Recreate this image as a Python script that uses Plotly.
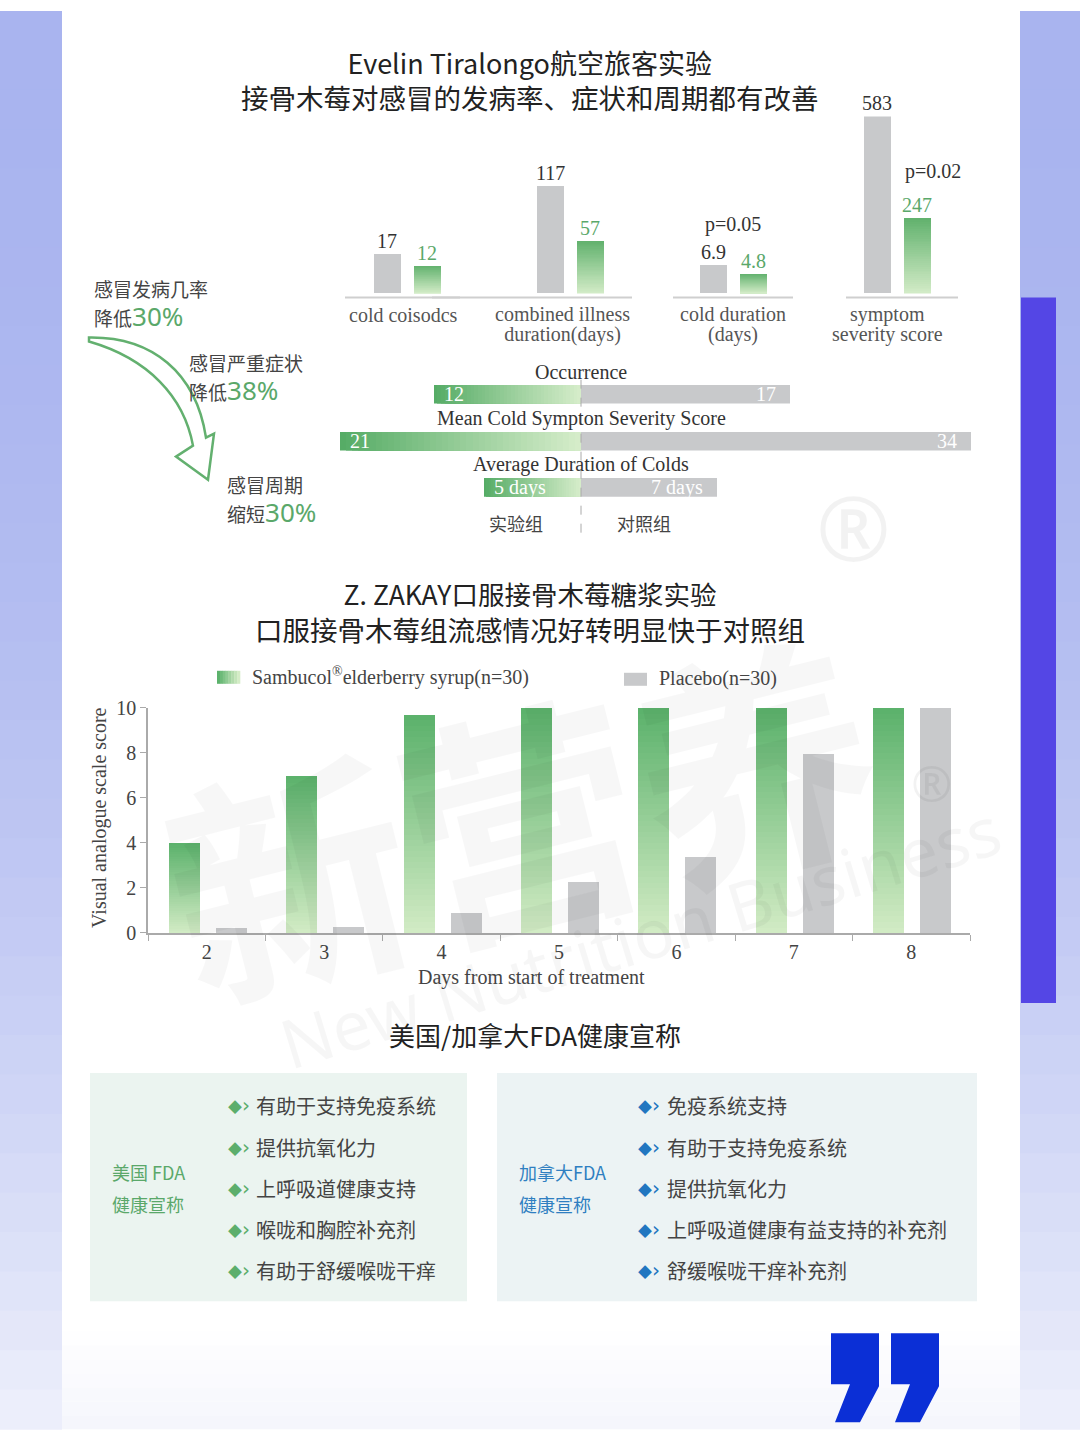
import plotly.graph_objects as go

W, H = 1080, 1440
# the photographed page shows the figure squeezed vertically (offset ~10.7px, scale ~0.984);
# map reference pixel rows to figure rows so the picture lines up with the reference
VA, VB = 10.7, 0.984
def X(px): return px / W
def Y(py): return 1 - ((py - VA) / VB) / H

SERIF = "Liberation Serif"
CJK = "Noto Sans CJK SC"
SANS = "Noto Sans"

# ---------------- data ----------------
# top chart (Evelin Tiralongo)
top_line1 = ["cold coisodcs", "combined illness", "cold duration", "symptom"]
top_line2 = ["", "duration(days)", "(days)", "severity score"]
top_placebo = [17, 117, 6.9, 583]
top_elder = [12, 57, 4.8, 247]
top_pvals = ["", "", "p=0.05", "p=0.02"]

# diverging rows
row_titles = ["Occurrence", "Mean Cold Sympton Severity Score", "Average Duration of Colds"]
row_elder = [12, 21, 5]
row_placebo = [17, 34, 7]
row_unit = ["", "", " days"]
group_names = ["实验组", "对照组"]

# bottom chart (Z. Zakay)
days = ["2", "3", "4", "5", "6", "7", "8"]
syrup = [4.0, 7.0, 9.7, 10, 10, 10, 10]
placebo = [0.22, 0.27, 0.89, 2.27, 3.38, 7.95, 10]
y_ticks = [0, 2, 4, 6, 8, 10]

# left summary
summary_head = ["感冒发病几率", "感冒严重症状", "感冒周期"]
summary_verb = ["降低", "降低", "缩短"]
summary_pct = ["30%", "38%", "30%"]

# FDA claims
us_claims = ["有助于支持免疫系统", "提供抗氧化力", "上呼吸道健康支持", "喉咙和胸腔补充剂", "有助于舒缓喉咙干痒"]
ca_claims = ["免疫系统支持", "有助于支持免疫系统", "提供抗氧化力", "上呼吸道健康有益支持的补充剂", "舒缓喉咙干痒补充剂"]

# ---------------- styles ----------------
GRAY = "#c8c9cb"
TXT = "#333333"
GTXT = "#5aa86a"
N = 40

def lerp(c1, c2, t):
    return "rgb(%d,%d,%d)" % tuple(round(a + (b - a) * t) for a, b in zip(c1, c2))

def ax(k):
    return ("x" if k == 1 else f"x{k}"), ("y" if k == 1 else f"y{k}")

def axname(kind, k):
    return kind if k == 1 else f"{kind}{k}"

fig = go.Figure()
layout_axes = {}
ann = []
shp = []

# ---------------- background ----------------
bands = 36
for i in range(bands):
    f0 = i / bands
    f1 = (i + 1) / bands
    t = ((i + 0.5) / bands) ** 2.2
    col = lerp((169, 180, 239), (238, 240, 251), t)
    for (a, b) in [(0, 62), (1020, 1080)]:
        shp.append(dict(type="rect", xref="paper", yref="paper", x0=X(a), x1=X(b),
                        y0=1 - f1 - 0.0005, y1=1 - f0, fillcolor=col, line_width=0, layer="below"))
for i in range(8):
    y0 = 1330 + i * 14
    col = lerp((255, 255, 255), (244, 245, 252), (i + 1) / 8)
    shp.append(dict(type="rect", xref="paper", yref="paper", x0=X(62), x1=X(1020),
                    y0=max(Y(y0 + 14), 0) if i < 7 else 0, y1=Y(y0), fillcolor=col, line_width=0, layer="below"))
shp.append(dict(type="rect", xref="paper", yref="paper", x0=X(1021), x1=X(1056),
                y0=Y(1002), y1=Y(297), fillcolor="#5446e5", line_width=0, layer="below"))

# ---------------- text helper ----------------
def text(px, py, s, size, color=TXT, family=CJK, xanchor="center", angle=0, yanchor="middle", align=None):
    ann.append(dict(xref="paper", yref="paper", x=X(px), y=Y(py), text=s, showarrow=False,
                    xanchor=xanchor, yanchor=yanchor, textangle=angle,
                    align=align or ("left" if xanchor == "left" else "center"),
                    font=dict(size=size, color=color, family=family)))

def sp(s, size, color=None, family=None):
    st = f"font-size:{size}px"
    if color:
        st += f";color:{color}"
    if family:
        st += f";font-family:{family}"
    return f"<span style='{st}'>{s}</span>"

# titles
text(530, 80, sp("Evelin Tiralongo航空旅客实验", 27) + "<br>" + sp("接骨木莓对感冒的发病率、症状和周期都有改善", 27.5),
     27, "#222")
text(530, 611, sp("Z. ZAKAY口服接骨木莓糖浆实验", 26.5) + "<br>" + sp("口服接骨木莓组流感情况好转明显快于对照组", 27.5),
     27.5, "#222")
text(535, 1033, "美国/加拿大FDA健康宣称", 26, "#222")

# ---------------- watermark ----------------
ann.append(dict(xref="paper", yref="paper", x=X(520), y=Y(810), text="<b>新营养</b>", showarrow=False,
                textangle=-14, font=dict(size=240, color="rgba(0,0,0,0.03)", family=CJK)))
ann.append(dict(xref="paper", yref="paper", x=X(640), y=Y(935), text="New Nutrition Business", showarrow=False,
                textangle=-17, font=dict(size=68, color="rgba(0,0,0,0.035)", family=SANS)))
ann.append(dict(xref="paper", yref="paper", x=X(893), y=Y(525), text="®", showarrow=False,
                font=dict(size=90, color="rgba(0,0,0,0.05)", family=SANS)))
ann.append(dict(xref="paper", yref="paper", x=X(955), y=Y(782), text="®", showarrow=False,
                font=dict(size=50, color="rgba(0,0,0,0.05)", family=SANS)))

# ---------------- top grouped bars (4 independent scales) ----------------
top_xdom = [(366.5, 446.5), (530, 610), (693, 773), (857, 937)]
top_ymax = [77.2, 193.5, 43.6, 583]
top_lines = [(345, 460), (432, 632), (673, 793), (846, 958)]
label_cx = [403, 562, 733, 887]
TG_DARK = (98, 178, 110)
TG_LIGHT = (212, 236, 200)
for i in range(4):
    k = i + 1
    xr, yr = ax(k)
    layout_axes[axname("xaxis", k)] = dict(domain=[X(top_xdom[i][0]), X(top_xdom[i][1])], range=[-0.5, 1.5],
                                           visible=False, anchor=yr, fixedrange=True)
    layout_axes[axname("yaxis", k)] = dict(domain=[Y(293), Y(116)], range=[0, top_ymax[i]],
                                           visible=False, anchor=xr, fixedrange=True)
    fig.add_trace(go.Bar(x=[0], y=[top_placebo[i]], width=0.675, marker=dict(color=GRAY, line_width=0),
                         xaxis=xr, yaxis=yr, showlegend=False, hoverinfo="skip"))
    v = top_elder[i]
    fig.add_trace(go.Bar(x=[1] * N, y=[v * (N - j) / N for j in range(N)], width=0.675,
                         marker=dict(color=[lerp(TG_LIGHT, TG_DARK, (N - j) / N) for j in range(N)], line_width=0),
                         xaxis=xr, yaxis=yr, showlegend=False, hoverinfo="skip"))
    ann.append(dict(xref=xr, yref=yr, x=0, y=top_placebo[i], text=f"{top_placebo[i]:g}", showarrow=False,
                    yanchor="bottom", yshift=0, font=dict(size=20, color=TXT, family=SERIF)))
    ann.append(dict(xref=xr, yref=yr, x=1, y=v, text=f"{v:g}", showarrow=False,
                    yanchor="bottom", yshift=0, font=dict(size=20, color=GTXT, family=SERIF)))
    shp.append(dict(type="line", xref="paper", yref="paper", x0=X(top_lines[i][0]), x1=X(top_lines[i][1]),
                    y0=Y(297), y1=Y(297), line=dict(color="#cfcfcf", width=2)))
    lbl = sp(top_line1[i], 20) + ("<br>" + sp(top_line2[i], 20) if top_line2[i] else "")
    text(label_cx[i], 314 if not top_line2[i] else 324, lbl, 15.4, "#555", SERIF)
text(733, 224, top_pvals[2], 20, TXT, SERIF)
text(933, 171, top_pvals[3], 20, TXT, SERIF)

# ---------------- diverging rows ----------------
row_band = [(384, 403), (431, 450), (477, 496)]
row_R = [39.2, 41.9, 24.7]
row_title_y = [371, 418, 464]
H_DARK = (86, 172, 102)
H_LIGHT = (216, 238, 204)
for r in range(3):
    k = 5 + r
    xr, yr = ax(k)
    layout_axes[axname("xaxis", k)] = dict(domain=[X(100), X(1062)], range=[-row_R[r], row_R[r]],
                                           visible=False, anchor=yr, fixedrange=True)
    layout_axes[axname("yaxis", k)] = dict(domain=[Y(row_band[r][1]), Y(row_band[r][0])], range=[-0.5, 0.5],
                                           visible=False, anchor=xr, fixedrange=True)
    v = row_elder[r]
    fig.add_trace(go.Bar(y=[0] * N, x=[-v * (N - j) / N for j in range(N)], orientation="h", width=1,
                         marker=dict(color=[lerp(H_LIGHT, H_DARK, (N - j) / N) for j in range(N)], line_width=0),
                         xaxis=xr, yaxis=yr, showlegend=False, hoverinfo="skip"))
    fig.add_trace(go.Bar(y=[0], x=[row_placebo[r]], orientation="h", width=1,
                         marker=dict(color=GRAY, line_width=0),
                         xaxis=xr, yaxis=yr, showlegend=False, hoverinfo="skip"))
    ann.append(dict(xref=xr, yref=yr, x=-v, y=0, text=f"{v}{row_unit[r]}", showarrow=False,
                    xanchor="left", xshift=8, font=dict(size=20, color="white", family=SERIF)))
    ann.append(dict(xref=xr, yref=yr, x=row_placebo[r], y=0, text=f"{row_placebo[r]}{row_unit[r]}",
                    showarrow=False, xanchor="right", xshift=-12, font=dict(size=20, color="white", family=SERIF)))
    text(581, row_title_y[r], row_titles[r], 20, TXT, SERIF)

shp.append(dict(type="line", xref="x6", yref="paper", x0=0, x1=0, y0=Y(532), y1=Y(378),
                line=dict(color="#aaaaaa", width=1, dash="dash")))
text(516, 522, group_names[0], 18, "#444")
text(644, 522, group_names[1], 18, "#444")

# ---------------- left summary with arrow ----------------
sum_pos = [(92, 304), (187, 378), (225, 500)]
for i in range(3):
    px, yc = sum_pos[i]
    s = (sp(summary_head[i], 19) + "<br>" + sp(summary_verb[i], 19)
         + sp(summary_pct[i], 26, GTXT, SANS))
    text(px, yc, s, 22.3, "#444", CJK, xanchor="left")

arrow_path = ("M {} C {} {} {} L {} L {} L {} L {} C {} {} {} Z").format(
    f"{X(89):.5f},{Y(337):.5f}",
    f"{X(152):.5f},{Y(336):.5f}", f"{X(196):.5f},{Y(372):.5f}", f"{X(206):.5f},{Y(437):.5f}",
    f"{X(214):.5f},{Y(433):.5f}", f"{X(208):.5f},{Y(479):.5f}", f"{X(176):.5f},{Y(456):.5f}",
    f"{X(193):.5f},{Y(445):.5f}",
    f"{X(184):.5f},{Y(396):.5f}", f"{X(148):.5f},{Y(358):.5f}", f"{X(89):.5f},{Y(341):.5f}")
shp.append(dict(type="path", xref="paper", yref="paper", path=arrow_path,
                fillcolor="white", line=dict(color="#63b06f", width=2.5)))

# ---------------- bottom grouped bar chart ----------------
k = 8
xr, yr = ax(k)
layout_axes[axname("xaxis", k)] = dict(
    domain=[X(148), X(970)], type="category", range=[-0.5, 6.5], anchor=yr,
    tickson="boundaries", ticks="outside", ticklen=6, tickcolor="#aaaaaa", tickwidth=1,
    showline=True, linecolor="#aaaaaa", linewidth=1.5, showgrid=False, fixedrange=True,
    tickfont=dict(size=20, color="#444", family=SERIF))
layout_axes[axname("yaxis", k)] = dict(
    domain=[Y(932), Y(707)], range=[0, 10], anchor=xr, tickvals=y_ticks,
    ticks="outside", ticklen=6, tickcolor="#aaaaaa", showline=True, linecolor="#aaaaaa", linewidth=1.5,
    showgrid=False, zeroline=False, fixedrange=True,
    tickfont=dict(size=20, color="#444", family=SERIF))
B_DARK = (92, 178, 108)
B_LIGHT = (212, 236, 198)
xs, ys, cs = [], [], []
for j in range(N):
    for d, v in zip(days, syrup):
        xs.append(d)
        ys.append(v * (N - j) / N)
        cs.append(lerp(B_LIGHT, B_DARK, (N - j) / N))
fig.add_trace(go.Bar(x=xs, y=ys, width=0.264, offset=-0.324, marker=dict(color=cs, line_width=0),
                     xaxis=xr, yaxis=yr, showlegend=False, hoverinfo="skip"))
fig.add_trace(go.Bar(x=days, y=placebo, width=0.264, offset=0.077, marker=dict(color=GRAY, line_width=0),
                     xaxis=xr, yaxis=yr, showlegend=False, hoverinfo="skip"))
text(100, 817, "Visual analogue scale score", 20, "#444", SERIF, angle=-90)
text(531, 976, "Days from start of treatment", 20, "#444", SERIF)

# legend
for i in range(8):
    shp.append(dict(type="rect", xref="paper", yref="paper", x0=X(217 + i * 23 / 8), x1=X(217 + (i + 1) * 23 / 8 + 0.3),
                    y0=Y(683), y1=Y(670), fillcolor=lerp(B_DARK, B_LIGHT, i / 7), line_width=0))
shp.append(dict(type="rect", xref="paper", yref="paper", x0=X(624), x1=X(647), y0=Y(685), y1=Y(672),
                fillcolor=GRAY, line_width=0))
text(250, 676, "Sambucol<sup>®</sup>elderberry syrup(n=30)", 20, "#444", SERIF, xanchor="left")
text(657, 678, "Placebo(n=30)", 20, "#444", SERIF, xanchor="left")

# ---------------- FDA panels ----------------
shp.append(dict(type="rect", xref="paper", yref="paper", x0=X(90), x1=X(467), y0=Y(1300), y1=Y(1072),
                fillcolor="#ebf4f0", line_width=0, layer="below"))
shp.append(dict(type="rect", xref="paper", yref="paper", x0=X(497), x1=X(977), y0=Y(1300), y1=Y(1072),
                fillcolor="#ecf3f4", line_width=0, layer="below"))
text(110, 1187, sp("美国 FDA", 18) + "<br>" + sp("健康宣称", 18), 24.6, GTXT, CJK, xanchor="left")
text(517, 1187, sp("加拿大FDA", 18) + "<br>" + sp("健康宣称", 18), 24.6, "#2f7fc1", CJK, xanchor="left")
claim_y = [1104, 1146, 1187, 1228, 1269]
bullet = "◆" + sp("›", 20, family="DejaVu Sans")
for i, c in enumerate(us_claims):
    text(226, claim_y[i], bullet, 14, "#5cae6c", CJK, xanchor="left")
    text(254, claim_y[i], c, 20, "#444", CJK, xanchor="left")
for i, c in enumerate(ca_claims):
    text(636, claim_y[i], bullet, 14, "#2176c0", CJK, xanchor="left")
    text(665, claim_y[i], c, 20, "#444", CJK, xanchor="left")

# ---------------- closing quote mark ----------------
def poly(pts):
    return "M " + " L ".join(f"{X(a):.5f},{Y(b):.5f}" for a, b in pts) + " Z"
for dx in (0, 60):
    shp.append(dict(type="path", xref="paper", yref="paper",
                    path=poly([(831 + dx, 1332), (879 + dx, 1332), (879 + dx, 1385), (860 + dx, 1421),
                               (835 + dx, 1421), (850 + dx, 1383), (831 + dx, 1383)]),
                    fillcolor="#0b2fd6", line_width=0))

fig.update_layout(
    width=W, height=H, autosize=False, margin=dict(l=0, r=0, t=0, b=0),
    paper_bgcolor="white", plot_bgcolor="rgba(0,0,0,0)",
    barmode="overlay", bargap=0, showlegend=False,
    annotations=ann, shapes=shp, **layout_axes)

fig.write_html("out.html", config={"displayModeBar": False},
               post_script=("var s=document.createElement('style');"
                            "s.innerHTML='html,body{margin:0;padding:0;overflow:hidden;width:1080px;height:1440px}';"
                            "document.head.appendChild(s);window.scrollTo(0,0);"))
